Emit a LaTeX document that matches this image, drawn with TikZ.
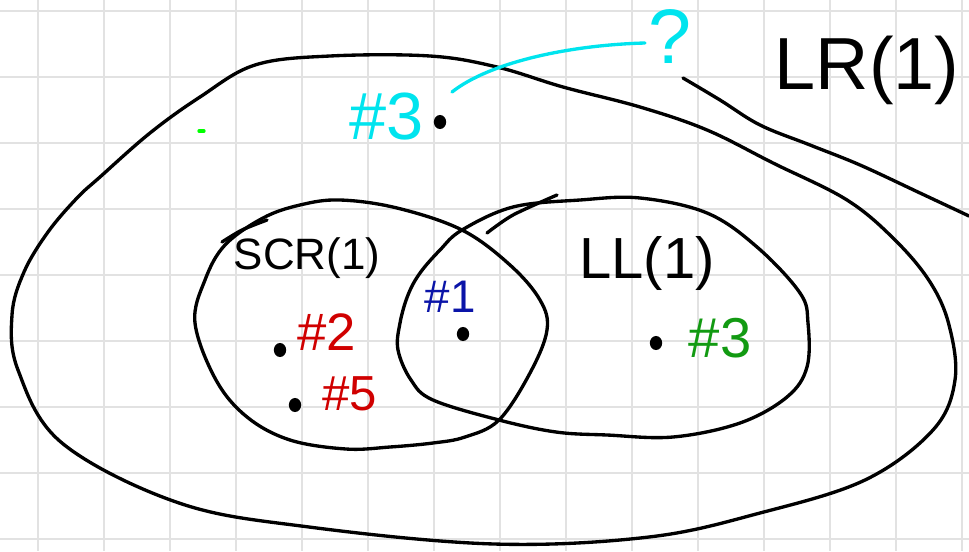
\documentclass[tikz,border=0pt]{standalone}
\usepackage{fontspec}
\setmainfont{Liberation Sans}
\usetikzlibrary{calc}
\definecolor{cgrid}{HTML}{E2E2E2}
\definecolor{ccyan}{HTML}{00E4EE}
\definecolor{cred}{HTML}{D00000}
\definecolor{cblue}{HTML}{0A14A8}
\definecolor{cgreen}{HTML}{129A12}
\tikzset{
  pen/.style={line width=1.9pt, line cap=round, line join=round},
  dotmark/.style={ellipse, fill=black, inner sep=0pt, minimum width=7pt, minimum height=8pt},
  hand/.style={inner sep=0pt, font=\fontsize{#1}{#1}\selectfont},
}
\usetikzlibrary{shapes.geometric}
\begin{document}
\begin{tikzpicture}[x=0.02cm, y=-0.02cm]
  \useasboundingbox (0,0) rectangle (969,551);
  % squared paper
  \foreach \gx in {38,104,...,962}{
    \draw[cgrid, line width=1pt] (\gx,0) -- (\gx,551);
  }
  \foreach \gy in {11,77,...,539}{
    \draw[cgrid, line width=1pt] (0,\gy) -- (969,\gy);
  }

  % LR(1): outer region
  \draw[pen] plot[smooth cycle, tension=0.6] coordinates {
    (255,65) (330,56) (430,56) (497,67) (563,87) (640,107) (707,130)
    (773,163) (847,200) (895,240) (930,282) (949,325) (955,380)
    (933,430) (865,480) (760,513) (649,537) (494,544) (309,527)
    (179,503) (62,443) (18,370) (12,315) (24,272) (48,232) (77,198)
    (100,177) (150,133) (200,97)};
  % LR(1): second stroke off to the right
  \draw[pen] plot[smooth, tension=0.6] coordinates {
    (683,78) (720,100) (760,125) (810,145) (860,165) (920,193) (969,216)};

  % SCR(1)
  \draw[pen] plot[smooth cycle, tension=0.6] coordinates {
    (195,323) (205,280) (225,245) (263,218) (300,205) (340,200)
    (397,208) (462,230) (510,265) (540,300) (547,330) (530,373)
    (499,420) (465,437) (433,443) (390,447) (346,449) (290,440)
    (247,417) (216,380)};
  \draw[pen] plot[smooth] coordinates {(222,242) (242,230) (267,220)};

  % LL(1)
  \draw[pen] plot[smooth cycle, tension=0.6] coordinates {
    (398,350) (400,323) (408,295) (420,273) (440,250) (462,230)
    (513,207) (580,200) (640,198) (707,213) (757,247) (800,293)
    (808,323) (807,367) (787,397) (740,423) (673,437) (607,435)
    (556,432) (499,420) (433,400) (411,380)};
  \draw[pen] plot[smooth] coordinates {(487,233) (513,215) (557,195)};

  % set names
  \node[hand=42] (lrname) at (867,70) {LR(1)};
  \node[hand=25] (scrname) at (307,258) {SCR(1)};
  \node[hand=33] (llname) at (647,263) {LL(1)};

  % items
  \node[dotmark] (dotc) at (440,122) {};
  \node[hand=38, ccyan] (itemc) at (387,117) {\#3};
  \node[dotmark] (dotb) at (463,334) {};
  \node[hand=26, cblue] (itemb) at (450,297) {\#1};
  \node[dotmark] (dotr) at (280,350) {};
  \node[hand=30, cred] (itemr) at (327,332) {\#2};
  \node[dotmark] (dotq) at (295,405) {};
  \node[hand=28, cred] (itemq) at (350,394) {\#5};
  \node[dotmark] (dotg) at (656,343) {};
  \node[hand=32, cgreen] (itemg) at (720,338) {\#3};

  % question
  \node[hand=44, ccyan] (qmark) at (670,37) {?};
  \coordinate (qtail) at (452,92);
  \coordinate (qhead) at (645,43);
  \draw[pen, ccyan] (qtail) .. controls (490,62) and (570,45) .. (qhead);

  \draw[pen, green] (199,131) -- (204,131);
\end{tikzpicture}
\end{document}
